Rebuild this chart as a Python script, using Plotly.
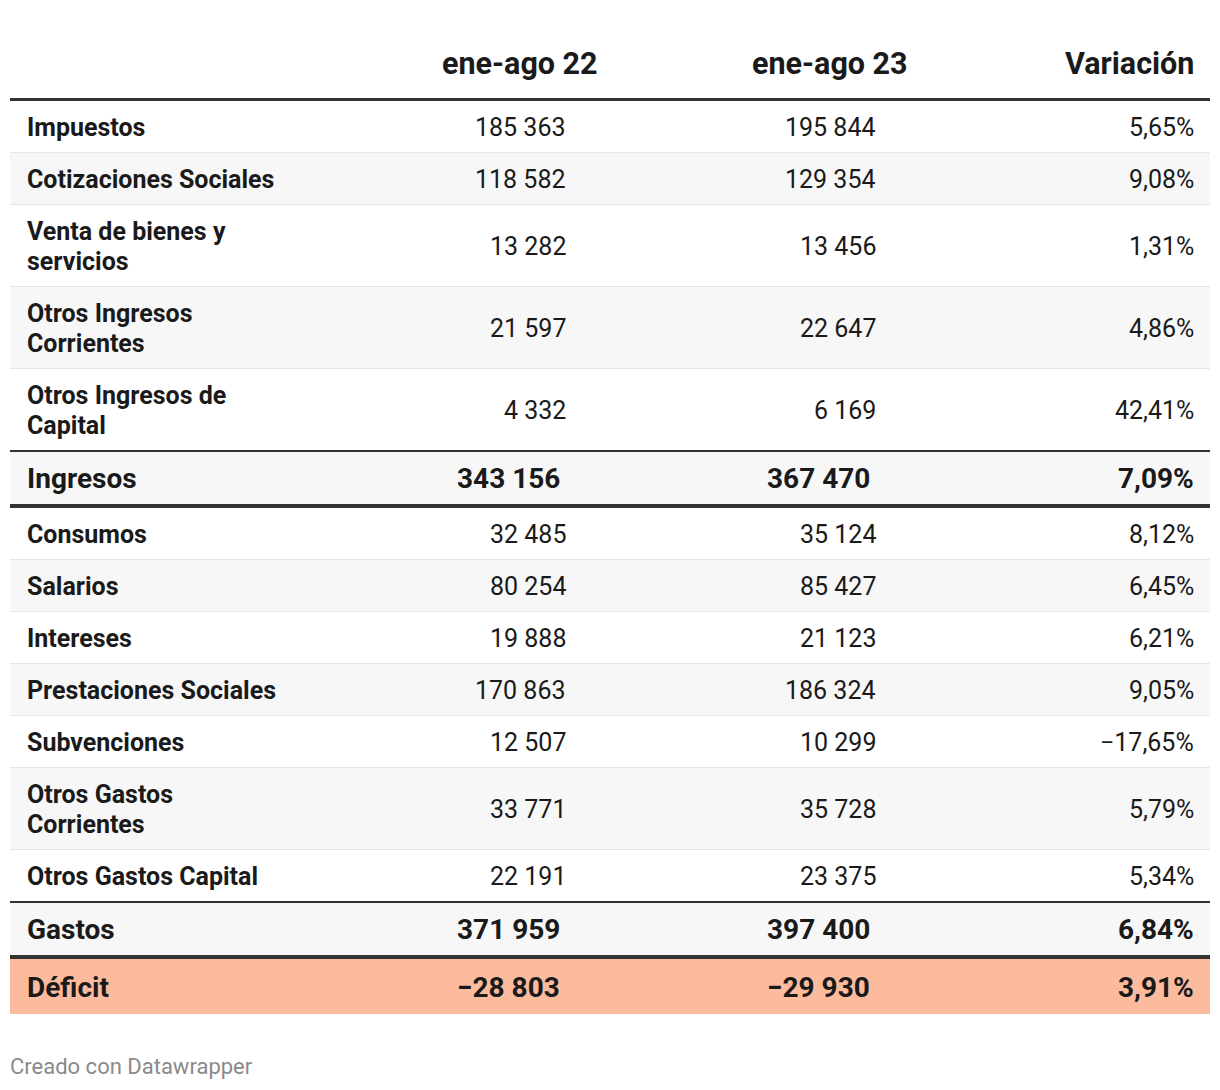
import plotly.graph_objects as go

# ---------------- data ----------------
headers = ["", "ene-ago 22", "ene-ago 23", "Variación"]
labels = [
    "Impuestos", "Cotizaciones Sociales", "Venta de bienes y<br>servicios",
    "Otros Ingresos<br>Corrientes", "Otros Ingresos de<br>Capital", "Ingresos",
    "Consumos", "Salarios", "Intereses", "Prestaciones Sociales", "Subvenciones",
    "Otros Gastos<br>Corrientes", "Otros Gastos Capital", "Gastos", "Déficit",
]
v22 = [185363, 118582, 13282, 21597, 4332, 343156,
       32485, 80254, 19888, 170863, 12507, 33771, 22191, 371959, -28803]
v23 = [195844, 129354, 13456, 22647, 6169, 367470,
       35124, 85427, 21123, 186324, 10299, 35728, 23375, 397400, -29930]
variation = [5.65, 9.08, 1.31, 4.86, 42.41, 7.09,
             8.12, 6.45, 6.21, 9.05, -17.65, 5.79, 5.34, 6.84, 3.91]
total_rows = ["Ingresos", "Gastos", "Déficit"]
highlight_row = "Déficit"
footer = "Creado con Datawrapper"

# ---------------- styling ----------------
W, H = 1220, 1090
OFF = 8  # default page body margin
TEXT = "#1a1a1a"
FONT = "Roboto"
STRIPE = "#f7f7f7"
SALMON = "#fdbb9e"
DARK = "#333333"
LIGHT = "#e6e6e6"
X0, X1 = 10, 1210
LABEL_X = 25
COL_RIGHT = [568, 878, 1196]
COL_RIGHT_BOLD = [562, 872, 1196]
HEADER_CENTER = [520, 830]
BODY_SIZE = 25
TOTAL_SIZE = 28
HEADER_SIZE = 30.5
FOOTER_SIZE = 22
LINE_GAP = 30


def fmt_int(v):
    s = f"{abs(v):,}".replace(",", " ")
    return ("−" if v < 0 else "") + s


def fmt_pct(v):
    s = f"{abs(v):.2f}".replace(".", ",") + "%"
    return ("−" if v < 0 else "") + s


shapes = []
annotations = []


def rect(y0, y1, color, layer="below"):
    shapes.append(dict(type="rect", xref="x", yref="y", x0=X0, x1=X1, y0=y0, y1=y1,
                       fillcolor=color, line=dict(width=0), layer=layer))


def text(x, y, s, size, anchor, bold=False, color=TEXT):
    annotations.append(dict(
        x=x, y=y, xref="x", yref="y", text=f"<b>{s}</b>" if bold else s,
        showarrow=False, xanchor=anchor, yanchor="middle", align="left",
        font=dict(family=FONT, size=size, color=color)))


# header
HEADER_Y = 63
text(HEADER_CENTER[0], HEADER_Y, headers[1], HEADER_SIZE, "center", True)
text(HEADER_CENTER[1], HEADER_Y, headers[2], HEADER_SIZE, "center", True)
text(COL_RIGHT[2], HEADER_Y, headers[3], HEADER_SIZE, "right", True)
rect(98, 101, DARK)

y = 101
for i, lab in enumerate(labels):
    is_total = lab in total_rows
    lines = lab.split("<br>")
    nlines = len(lines)
    if lab == highlight_row:
        content_h = 55
    elif is_total:
        content_h = 52
    else:
        content_h = 51 + LINE_GAP * (nlines - 1)
    if i == len(labels) - 1:
        border_h, border_c = 0, None
    elif labels[i + 1] in total_rows and labels[i + 1] != highlight_row:
        border_h, border_c = 2, DARK
    elif is_total:
        border_h, border_c = 4, DARK
    else:
        border_h, border_c = 1, LIGHT
    if lab == highlight_row:
        rect(y, y + content_h, SALMON)
    elif i % 2 == 1:
        rect(y, y + content_h + (border_h if border_c == LIGHT else 0), STRIPE)
    cy = y + content_h / 2 + 0.5
    size = TOTAL_SIZE if is_total else BODY_SIZE
    for k, line in enumerate(lines):
        ly = cy + (k - (nlines - 1) / 2) * LINE_GAP
        text(LABEL_X, ly, line, size, "left", True)
    rights = COL_RIGHT_BOLD if is_total else COL_RIGHT
    text(rights[0], cy, fmt_int(v22[i]), size, "right", is_total)
    text(rights[1], cy, fmt_int(v23[i]), size, "right", is_total)
    text(rights[2], cy, fmt_pct(variation[i]), size, "right", is_total)
    y += content_h
    if border_h:
        rect(y, y + border_h, border_c, "above" if border_c == LIGHT else "below")
        y += border_h

text(X0 - 2, 1066, footer, FOOTER_SIZE, "left", False, "#8a8a8a")

fig = go.Figure()
fig.update_layout(
    width=W - OFF, height=H - OFF,
    margin=dict(l=0, r=0, t=0, b=0),
    paper_bgcolor="white", plot_bgcolor="white",
    xaxis=dict(range=[OFF, W], visible=False, fixedrange=True),
    yaxis=dict(range=[H, OFF], visible=False, fixedrange=True),
    shapes=shapes, annotations=annotations, showlegend=False,
)
fig.write_html("out.html", config={"displayModeBar": False})
